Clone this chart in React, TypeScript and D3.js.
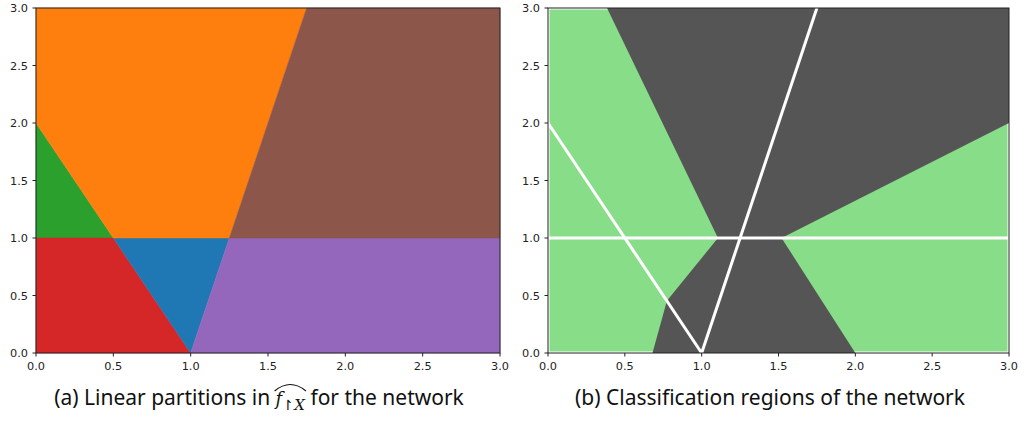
import React, { useLayoutEffect, useRef, useState } from "react";
import * as d3 from "d3";

// ---- data ----
const ticks = [0, 0.5, 1.0, 1.5, 2.0, 2.5, 3.0];
type Pt = [number, number];
const partitionNames = ["green", "red", "blue", "purple", "orange", "brown"];
const partitionColors = ["#2ca02c", "#d62728", "#1f77b4", "#9467bd", "#ff7f0e", "#8c564b"];
const partitionPolys: Pt[][] = [
  [[0, 1], [0, 2], [0.5, 1]],
  [[0, 0], [1, 0], [0.5, 1], [0, 1]],
  [[0.5, 1], [1, 0], [1.25, 1]],
  [[1, 0], [3, 0], [3, 1], [1.25, 1]],
  [[0, 2], [0, 3], [1.75, 3], [1.25, 1], [0.5, 1]],
  [[1.25, 1], [1.75, 3], [3, 3], [3, 1]],
];
const classNegPolys: Pt[][] = [
  [[0.384, 3], [1.106, 1], [1.52, 1], [3, 2], [3, 3]],
  [[1.106, 1], [1.52, 1], [2.0, 0], [0.68, 0], [0.774, 0.455]],
];
const boundaryLines: Pt[][] = [
  [[0, 2], [1, 0]],
  [[1, 0], [1.75, 3]],
  [[0, 1], [3, 1]],
];

const W = 1032, H = 425;
const panelA = { x0: 36, x1: 500, y0: 8, y1: 353 };
const panelB = { x0: 548, x1: 1009, y0: 8, y1: 353 };

function Axes({ p, children }: { p: typeof panelA; children: (x: any, y: any) => React.ReactNode }) {
  const x = d3.scaleLinear().domain([0, 3]).range([p.x0, p.x1]);
  const y = d3.scaleLinear().domain([0, 3]).range([p.y1, p.y0]);
  const font = "DejaVu Sans";
  const fs = 11.3;
  return (
    <g>
      {children(x, y)}
      <rect x={p.x0} y={p.y0} width={p.x1 - p.x0} height={p.y1 - p.y0} fill="none" stroke="#222" strokeWidth={1} />
      {ticks.map((t) => (
        <g key={"x" + t}>
          <line x1={x(t)} x2={x(t)} y1={p.y1} y2={p.y1 + 3.5} stroke="#222" />
          <text x={x(t)} y={p.y1 + 17} fontSize={fs} fontFamily={font} textAnchor="middle" fill="#222">
            {t.toFixed(1)}
          </text>
        </g>
      ))}
      {ticks.map((t) => (
        <g key={"y" + t}>
          <line x1={p.x0 - 3.5} x2={p.x0} y1={y(t)} y2={y(t)} stroke="#222" />
          <text x={p.x0 - 8} y={y(t) + 4} fontSize={fs} fontFamily={font} textAnchor="end" fill="#222">
            {t.toFixed(1)}
          </text>
        </g>
      ))}
    </g>
  );
}

const capPrefix = "(a) Linear partitions in ";

export default function App() {
  const line = (x: any, y: any) => d3.line<Pt>().x((d) => x(d[0])).y((d) => y(d[1]));
  const capFont = "Noto Sans";
  const capFs = 21;
  const capRef = useRef<SVGTextElement>(null);
  const [hat, setHat] = useState<[number, number] | null>(null);
  useLayoutEffect(() => {
    const t = capRef.current;
    if (t) {
      const i = capPrefix.length;
      const f = t.getExtentOfChar(i);
      const X = t.getExtentOfChar(i + 2);
      setHat([f.x, X.x + X.width]);
    }
  }, []);
  return (
    <svg width={W} height={H} style={{ position: "absolute", left: 0, top: 0 }}>
      <rect width={W} height={H} fill="white" />
      <Axes p={panelA}>
        {(x, y) =>
          partitionPolys.map((poly, i) => (
            <path key={partitionNames[i]} d={line(x, y)(poly) + "Z"} fill={partitionColors[i]} stroke={partitionColors[i]} strokeWidth={0.5} />
          ))
        }
      </Axes>
      <Axes p={panelB}>
        {(x, y) => (
          <g>
            <rect x={x(0) + 1.5} y={y(3) + 1.5} width={x(3) - x(0) - 3} height={y(0) - y(3) - 3} fill="#88dd88" />
            {classNegPolys.map((poly, i) => (
              <path key={i} d={line(x, y)(poly) + "Z"} fill="#555555" />
            ))}
            {boundaryLines.map((l, i) => (
              <path key={"l" + i} d={line(x, y)(l) as string} stroke="white" strokeWidth={3} fill="none" />
            ))}
          </g>
        )}
      </Axes>
      <text ref={capRef} x={259} y={405} fontSize={capFs} fontFamily={capFont} textAnchor="middle" fill="#111">
        <tspan>{capPrefix}</tspan>
        <tspan fontSize={18} fontStyle="italic" fontFamily="DejaVu Serif">f</tspan>
        <tspan fontSize={14} dy={5}>↾</tspan>
        <tspan fontSize={15} fontStyle="italic" fontFamily="DejaVu Serif">X</tspan>
        <tspan dy={-5}> for the network</tspan>
      </text>
      {hat && (
        <path
          d={`M ${hat[0] - 1} 391 Q ${(hat[0] + hat[1]) / 2} 378 ${hat[1] + 1} 391`}
          stroke="#111"
          strokeWidth={1.1}
          fill="none"
        />
      )}
      <text x={770} y={405} fontSize={capFs} fontFamily={capFont} textAnchor="middle" fill="#111">
        (b) Classification regions of the network
      </text>
    </svg>
  );
}
